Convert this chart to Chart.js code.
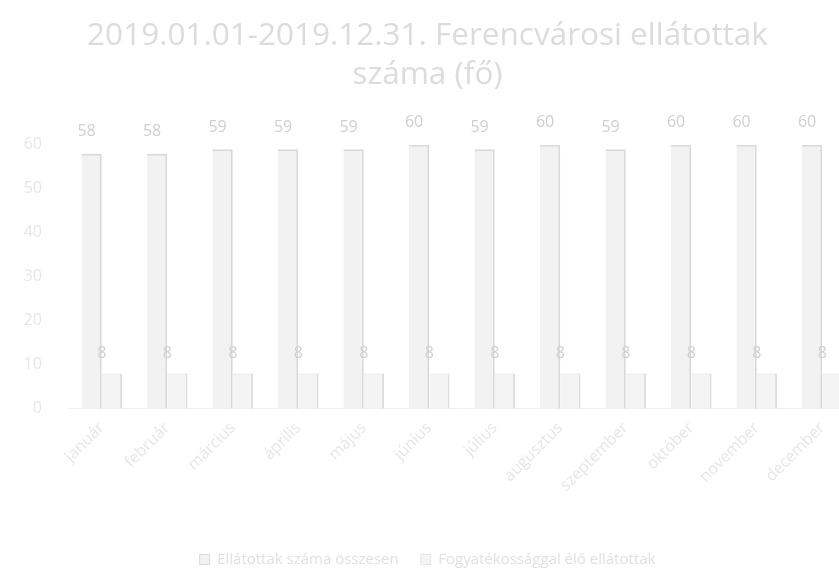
<!DOCTYPE html>
<html>
<head>
<meta charset="utf-8">
<script src="https://cdn.jsdelivr.net/npm/chart.js@4.4.1/dist/chart.umd.min.js"></script>
<style>
  html, body { margin: 0; padding: 0; background: #fff; overflow: hidden; }
  #wrap { width: 884px; height: 577px; }
</style>
</head>
<body>
<div id="wrap"><canvas id="chart"></canvas></div>
<script>
// Adatok
const honapok = ['január', 'február', 'március', 'április', 'május', 'június',
  'július', 'augusztus', 'szeptember', 'október', 'november', 'december'];
const ellatottak = [58, 58, 59, 59, 59, 60, 59, 60, 59, 60, 60, 60];
const fogyatekosok = [8, 8, 8, 8, 8, 8, 8, 8, 8, 8, 8, 8];
const yTicks = [0, 10, 20, 30, 40, 50, 60];
const sorozatNevek = ['Ellátottak száma összesen', 'Fogyatékossággal élő ellátottak'];

// Értékcímkék az oszlopok fölé
const ertekCimkek = {
  id: 'ertekCimkek',
  afterDatasetsDraw(chart) {
    const ctx = chart.ctx;
    ctx.save();
    ctx.textAlign = 'center';
    ctx.textBaseline = 'bottom';
    ctx.font = '16px "Open Sans", sans-serif';
    ctx.fillStyle = '#cfcfcf';
    chart.data.datasets.forEach((ds, i) => {
      const meta = chart.getDatasetMeta(i);
      meta.data.forEach((bar, j) => {
        const dx = i === 0 ? -5 : -10;
        const dy = i === 0 ? 14 : 12;
        ctx.fillText(ds.data[j], bar.x + dx, bar.y - dy);
      });
    });
    ctx.restore();
  }
};

new Chart(document.getElementById('chart'), {
  type: 'bar',
  data: {
    labels: honapok,
    datasets: [{
      label: sorozatNevek[0],
      data: ellatottak,
      backgroundColor: '#f2f2f2',
      borderColor: '#d9d9d9',
      borderWidth: { left: 0, top: 2, right: 2, bottom: 0 },
      borderSkipped: false
    }, {
      label: sorozatNevek[1],
      data: fogyatekosok,
      backgroundColor: '#f4f4f4',
      borderColor: '#dedede',
      borderWidth: { left: 0, top: 1, right: 2, bottom: 0 },
      borderSkipped: false
    }]
  },
  options: {
    responsive: true,
    maintainAspectRatio: false,
    animation: false,
    categoryPercentage: 0.62,
    barPercentage: 1.0,
    layout: { padding: { left: 0, right: 29, top: 12, bottom: 0 } },
    plugins: {
      title: {
        display: true,
        text: ['2019.01.01-2019.12.31. Ferencvárosi ellátottak', 'száma (fő)'],
        color: '#dcdcdc',
        font: { family: '"Open Sans", sans-serif', size: 31.5, weight: 'normal', lineHeight: 1.22 },
        padding: { top: 5, bottom: 51 }
      },
      legend: {
        position: 'bottom',
        labels: {
          color: '#e0e0e0',
          boxWidth: 10,
          boxHeight: 10,
          padding: 22,
          font: { family: '"Open Sans", sans-serif', size: 15 }
        }
      },
      tooltip: { enabled: false }
    },
    scales: {
      x: {
        grid: { display: false, drawTicks: false },
        border: { color: '#f0f0f0' },
        afterFit(scale) {
          scale.height += 25;
          scale.paddingLeft = 0;
          scale.paddingRight = 0;
        },
        ticks: {
          color: '#e6e6e6',
          maxRotation: 45,
          minRotation: 45,
          padding: 10,
          font: { family: '"Open Sans", sans-serif', size: 16 }
        }
      },
      y: {
        min: 0,
        max: 60,
        afterBuildTicks(axis) { axis.ticks = yTicks.map(v => ({ value: v })); },
        afterFit(scale) { scale.width = 69; },
        grid: { display: false, drawTicks: false },
        border: { display: false },
        ticks: {
          color: '#e6e6e6',
          padding: 27,
          font: { family: '"Open Sans", sans-serif', size: 16 }
        }
      }
    }
  },
  plugins: [ertekCimkek]
});
</script>
</body>
</html>
